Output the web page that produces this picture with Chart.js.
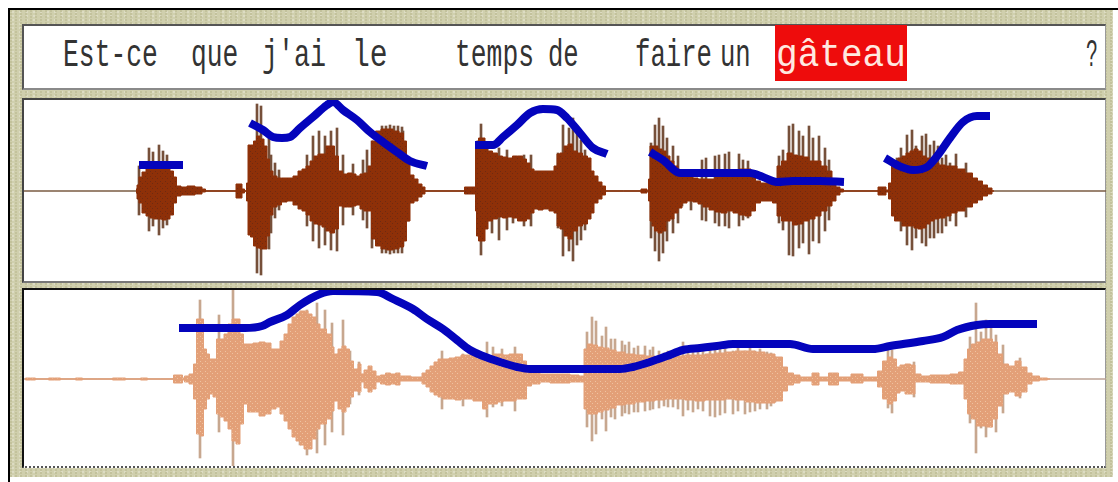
<!DOCTYPE html>
<html lang="fr">
<head>
<meta charset="utf-8">
<title>Est-ce que j'ai le temps de faire un gâteau ?</title>
<script src="https://cdn.jsdelivr.net/npm/chart.js@4"></script>
<style>
html,body{margin:0;padding:0;width:1118px;height:482px;overflow:hidden;background:#fff}
#frame{position:absolute;left:8px;top:8px;right:0;bottom:0;border-left:2px solid #000;border-top:2px solid #000}
#beige{position:absolute;left:10px;top:10px;width:1103px;height:467px;
 background-color:#d0cfad;
 background-image:radial-gradient(circle at 1px 1px,#c3c29c 1px,transparent 1.6px),radial-gradient(circle at 3px 2px,#dddcc3 1px,transparent 1.6px);
 background-size:5px 3px,7px 4px}
.panel{position:absolute;background:#fff;box-sizing:border-box}
#p1{left:22px;top:24px;width:1084px;height:66px;border-top:2px solid #555;border-left:2px solid #555;border-bottom:2px solid #8a8a8a;border-right:1px solid #999}
#p2{left:22px;top:98px;width:1084px;height:185px;border-top:2px solid #444;border-left:2px solid #444;border-bottom:2px solid #777;border-right:1px solid #999}
#p3{left:22px;top:288px;width:1084px;height:180px;border-top:2px solid #111;border-left:2px solid #111;border-bottom:2px dotted #555;border-right:1px solid #999}
#hl{position:absolute;background:#ee0c0c}
.w{position:absolute;top:34px;font:38px/44px "Liberation Mono",monospace;color:#333;transform-origin:0 0;white-space:pre}
canvas{position:absolute;display:block}
</style>
</head>
<body>
<div id="frame"></div>
<div id="beige"></div>
<div class="panel" id="p1"></div>
<div class="panel" id="p2"></div>
<div class="panel" id="p3"></div>
<div id="hl" style="left:775px;top:25px;width:132px;height:56px"></div>
<canvas id="c1" width="1082" height="181" style="left:24px;top:100px"></canvas>
<canvas id="c2" width="1082" height="176" style="left:24px;top:290px"></canvas>
<script>
// Sentence
const words = ["Est-ce","que","j'ai","le","temps","de","faire","un","gâteau","?"];
const wordStart = [63,191,262,352,455,548,635,720,776,1086];
const wordEnd = [158,238,326,388,534,579,712,751,906,1098];
const focusWord = "gâteau";

// Upper recording: waveform body
const aTime = [136,138,140,144,148,152,156,160,164,168,172,175,178,184,190,200,204,207, 235,237,241,243,246,
 247,249,252,255,258,262,266,268,271,275,279,284,290,296,300,304,308,312,316,320,324,328,332,337,340,345,350,354,358,362,366,370,373,378,384,390,396,402,405,408,412,416,420,424,426,
 464,465,475,476,477,480,484,486,490,495,500,505,510,515,520,525,528,532,536,540,546,552,556,558,562,566,570,575,580,585,590,592,596,600,604,607,
 640,642,646,648,649,651,653,656,660,664,668,672,676,680,684,690,696,700,706,712,718,724,730,736,742,748,754,757,764,770,775,779,784,790,795,800,806,812,818,824,830,834,838,842,845,
 877,879,885,887,890,893,896,900,904,908,912,916,920,924,928,932,936,942,948,954,960,970,975,980,985,990,994];
const aUp = [2,6,14,19,22,25,24,24,22,22,20,14,5,4,5,4,2,0, 0,7,7,2,0,
 8,46,46,50,55,52,45,32,20,15,13,13,13,15,20,22,25,30,35,37,37,45,45,35,20,17,18,17,15,17,18,25,50,60,62,62,60,58,50,30,16,12,7,4,0,
 0,4,4,45,50,53,53,45,40,38,35,34,33,35,35,32,28,22,20,20,20,20,25,37,38,45,47,40,38,35,33,20,15,9,5,0,
 0,2,2,0,12,45,45,45,42,40,35,30,25,20,15,14,13,12,12,12,15,15,16,20,22,22,15,10,8,8,10,25,30,38,36,35,34,30,30,25,20,10,4,2,0,
 0,4,4,1,8,25,30,33,35,38,40,42,40,35,33,30,28,26,25,25,22,18,13,10,6,3,0];
const aDown = [2,8,12,22,25,27,28,28,29,28,24,12,5,4,4,3,1,0, 0,7,7,2,0,
 10,44,46,55,57,58,58,45,24,16,14,11,10,14,18,20,24,30,33,34,36,40,42,38,15,16,16,15,14,18,20,20,48,55,58,59,58,56,50,30,12,10,6,3,0,
 0,3,3,20,45,50,50,38,30,28,26,27,26,27,30,30,28,22,18,19,18,20,22,35,38,45,48,40,35,33,28,22,12,8,4,0,
 0,2,2,0,10,30,35,40,42,40,30,28,22,17,12,10,11,13,16,19,21,22,20,22,24,25,20,12,10,10,12,25,30,30,34,33,30,28,25,20,15,10,4,1,0,
 0,4,4,1,8,25,30,30,35,35,35,37,38,37,33,30,28,27,25,22,20,16,12,9,5,3,0];

// Upper recording: individual peaks
const aPeakTime = [139,149,153,159,163,167,257,261,269,271,275,279,307,313,319,325,331,337,343,353,363,367,372,382,386,390,394,398,402,403,408,
 481,492,499,507,513,524,531,558,563,569,573,577,581,585,
 651,655,659,663,667,673,678,682,691,702,706,715,719,725,729,739,743,748,779,783,789,793,799,803,809,813,819,825,829,
 897,901,907,912,916,922,926,930,934,938,942,946,950,956,966];
const aPeakTop = [25,43,39,46,40,36,87,85,56,36,28,21,36,55,60,55,60,63,36,27,31,41,50,65,65,66,65,65,64,60,30,
 67,38,43,41,33,36,36,38,66,63,73,60,51,41,
 48,66,73,65,53,45,35,15,21,31,33,35,36,37,39,37,31,30,35,41,65,67,60,55,65,53,55,43,31,
 33,43,56,61,45,55,57,46,50,45,33,36,28,37,28];
const aPeakBottom = [24,40,35,44,37,34,82,84,58,42,27,19,35,50,57,54,59,60,34,24,29,37,57,62,62,63,62,62,62,55,30,
 64,42,49,39,32,35,35,37,65,60,70,54,49,39,
 47,60,70,62,50,42,32,15,19,29,30,32,35,35,37,35,29,27,32,39,64,65,57,52,63,50,52,40,29,
 29,40,54,59,47,52,55,47,47,42,42,35,30,35,26];

// Upper recording: pitch contour, null separates the phrases
const aPitchTime = [139,183,null, 250,263,273,282,290,300,313,327,333,343,357,370,383,397,410,427,null,
 475,493,503,517,530,543,557,567,580,593,607,null,
 650,663,680,700,750,763,777,793,820,844,null,
 885,897,913,927,938,950,963,977,990];
const aPitch = [26,26,null, 68,61,54,53,54,63,74,86,89,81,71,59,49,39,30,25,null,
 46,46,54,66,78,82,81,73,58,43,37,null,
 39,31,18,18,18,14,9,10,10,9,null,
 33,26,21,24,36,53,69,75,75];

// Lower recording: waveform body
const bTime = [25,26,35,36,48,49,60,61,75,76,82,83,112,113,125,126,140,141,147,148,173,174,182,183,
 186,192,195,198,202,205,208,211,215,218,222,226,230,234,238,242,245,250,256,262,268,274,278,282,286,290,294,298,302,306,310,314,318,322,331,332,336,340,344,348,351,356,360,362,366,370,374,378,383,388,393,398,402,408,414,420,
 424,428,432,436,440,446,452,458,464,470,476,480,485,490,495,500,506,512,520,525,528,535,545,555,565,575,583,
 585,590,595,600,606,612,620,630,640,650,660,670,680,690,700,710,720,730,740,750,760,770,780,785,790,797,803,808,816,822,835,842,860,866,875,880,885,890,895,898,902,908,913,917,925,935,945,955,962,966,969,974,979,984,990,995,1000,1005,1012,1018,1024,1030,1034,1045,1050];
const bUp = [0,1,1,0,0,1,1,0,0,1,1,0,0,1,1,0,0,1,1,0,0,4,4,1,
 3,5,15,60,60,30,25,20,20,40,40,45,55,60,60,45,35,35,36,37,36,30,30,38,45,55,62,65,68,68,65,62,55,50,45,32,25,30,33,30,18,10,15,5,9,13,8,3,4,6,5,6,3,3,2,2,
 6,9,13,17,20,20,21,22,24,24,25,22,22,22,25,25,24,25,25,18,7,6,5,5,5,4,3,
 30,35,34,32,31,29,27,25,24,23,22,22,23,24,24,25,26,27,28,28,27,25,22,12,6,4,2,2,6,2,6,2,5,2,2,8,18,22,20,12,14,15,14,5,3,4,4,5,7,20,30,35,37,40,40,37,25,15,13,18,12,6,3,1,0];
const bDown = [0,1,1,0,0,1,1,0,0,1,1,0,0,1,1,0,0,1,1,0,0,4,4,1,
 3,5,20,55,57,30,20,15,18,35,38,42,50,62,65,45,25,33,33,37,35,30,28,35,42,50,58,62,66,70,70,60,50,45,40,32,22,30,33,28,18,12,13,3,9,13,10,3,5,6,5,6,2,2,2,2,
 5,8,13,16,18,20,20,21,20,20,22,22,30,25,25,23,22,22,20,20,7,5,3,4,4,3,3,
 30,35,35,33,31,29,26,25,23,22,21,20,20,21,22,21,21,20,21,23,24,24,22,12,6,4,2,2,6,2,6,2,4,2,2,8,20,25,22,14,12,15,15,3,3,4,4,5,5,20,35,40,47,47,48,40,27,15,13,17,13,5,2,1,0];

// Lower recording: individual peaks
const bPeakTime = [200,219,233,242,300,307,317,325,332,343,350,359,442,463,487,493,502,515,587,592,596,602,606,611,615,622,629,638,645,653,668,683,710,715,733,745,755,767,775,888,892,914,970,976,981,986,991,996,1003,1020,
 625,634,650,659,664,673,678,688,693,698,703,720,725,738,750,760,771];
const bPeakTop = [79,64,89,40,67,69,76,69,56,59,28,17,28,25,37,32,30,32,47,62,58,43,52,40,40,38,37,33,33,32,28,37,30,30,28,28,28,27,22,29,29,17,42,76,47,59,51,44,34,21,
 34,31,29,28,26,27,29,30,31,31,30,30,30,31,31,30,26];
const bPeakBottom = [79,53,88,40,66,76,74,66,53,56,25,16,30,27,38,28,27,32,48,62,55,40,52,38,40,37,35,33,32,30,28,37,37,38,35,35,32,30,23,29,34,18,44,74,49,58,48,53,34,19,
 34,33,31,29,27,28,30,31,33,30,32,36,34,32,33,30,27];

// Lower recording: pitch contour
const bPitchTime = [179,245,262,270,287,300,320,333,377,393,413,427,443,457,470,483,500,517,530,620,633,650,667,683,700,717,733,790,813,873,890,923,943,957,977,990,1037];
const bPitch = [51,51,53,57,64,74,85,88,87,80,70,60,50,39,29,23,17,12,10,10,12,17,23,29,31,33,35,35,30,30,33,38,42,49,54,55,55];

const xMin = 24, xMax = 1106;

const toPoints = (xs, ys) => xs.map((x, i) => ({x, y: ys[i]}));
const speckle = (base, dot) => {
  const t = document.createElement('canvas');
  t.width = 5; t.height = 5;
  const g = t.getContext('2d');
  g.fillStyle = base; g.fillRect(0, 0, 5, 5);
  g.fillStyle = dot; g.fillRect(1, 1, 1, 1); g.fillRect(3, 3, 1, 1);
  return g.createPattern(t, 'repeat');
};

function drawRecording(id, time, up, down, peakTime, peakTop, peakBottom, pitchTime, pitch, yMin, yMax, look) {
  const body = speckle(look.body, look.dot);
  new Chart(document.getElementById(id), {
    type: 'bar',
    data: {
      datasets: [
        {type:'line', label:'Intonation', data: pitchTime.map((x,i) => x === null ? {x: pitchTime[i-1] + 1, y: null} : {x, y: pitch[i]}),
         borderColor:'#0404bc', borderWidth:8, pointRadius:0, cubicInterpolationMode:'monotone', spanGaps:false, fill:false, order:0, borderCapStyle:'butt'},
        {type:'bar', label:'Peaks', data: peakTime.map((x,i) => ({x, y:[-peakBottom[i], peakTop[i]]})),
         backgroundColor:look.peak, barThickness:2, order:3},
        {type:'line', label:'Signal +', data: toPoints(time, up), borderColor:look.body, borderWidth:1, pointRadius:0, stepped:'middle',
         backgroundColor:body, fill:'+1', order:2},
        {type:'line', label:'Signal -', data: toPoints(time, down.map(v => -v)), borderColor:look.body, borderWidth:1, pointRadius:0, stepped:'middle', fill:false, order:2},
        {type:'line', label:'Zero', data:[{x:xMin,y:0},{x:xMax,y:0}], borderColor:look.zero, borderWidth:1.5, pointRadius:0, fill:false, order:4}
      ]
    },
    options: {
      responsive:false, animation:false, events:[],
      layout:{padding:0},
      plugins:{legend:{display:false}, tooltip:{enabled:false}},
      scales:{
        x:{type:'linear', min:xMin, max:xMax, offset:false, display:false},
        y:{min:yMin, max:yMax, display:false}
      }
    }
  });
}

drawRecording('c1', aTime, aUp, aDown, aPeakTime, aPeakTop, aPeakBottom, aPitchTime, aPitch, -90, 91,
  {body:'#8e3008', dot:'#6d2a12', peak:'#76503a', zero:'#7a5b42'});
drawRecording('c2', bTime, bUp, bDown, bPeakTime, bPeakTop, bPeakBottom, bPitchTime, bPitch, -87, 89,
  {body:'#e3a078', dot:'#efc3a0', peak:'#c7a78f', zero:'#bba294'});

words.forEach((w, i) => {
  const s = document.createElement('span');
  s.className = 'w';
  s.textContent = w;
  s.style.left = wordStart[i] + 'px';
  if (w === focusWord) s.style.color = '#ffe9e0';
  document.body.appendChild(s);
  s.style.transform = 'scaleX(' + ((wordEnd[i] - wordStart[i]) / s.offsetWidth) + ')';
});
</script>
</body>
</html>
